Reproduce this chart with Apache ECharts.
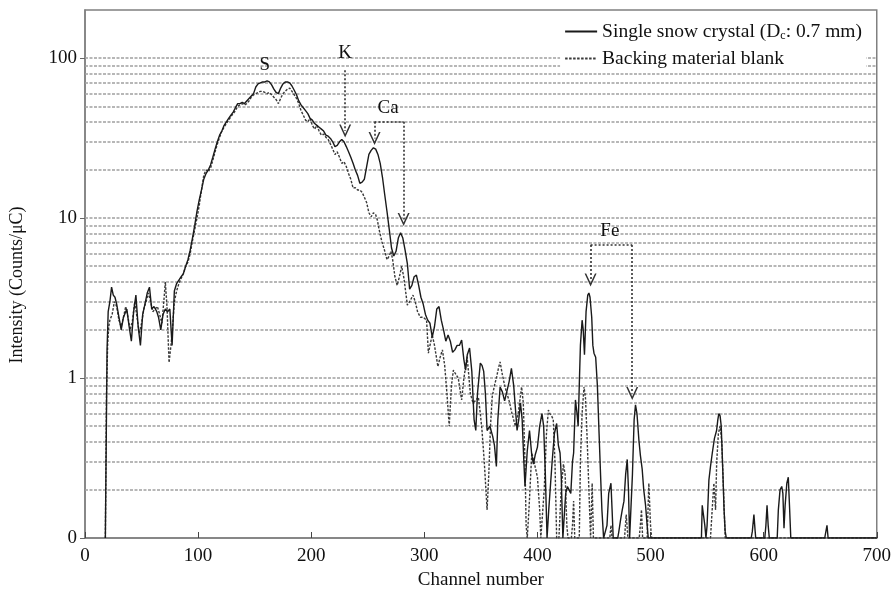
<!DOCTYPE html>
<html>
<head>
<meta charset="utf-8">
<script src="https://cdn.jsdelivr.net/npm/echarts@6/dist/echarts.min.js"></script>
<style>html,body{margin:0;padding:0;background:#fff}#c{width:894px;height:601px}</style>
</head>
<body>
<div id="c"></div>
<script>
// ---------- data ----------
const seriesNames = ['Single snow crystal (Dc: 0.7 mm)', 'Backing material blank'];
// [channel, counts/µC]; 0 = no counts (drawn on the axis floor)
const snowSpectrum = [
[18,0],[19.5,1.5],[20.5,2.6],[22,3.0],[23.5,3.7],[25,3.3],[26.5,3.2],[28,2.9],[30,2.4],[32,2.0],[34,2.4],[37,2.7],[39,2.1],[41,1.7],[43,2.6],[45,3.3],[47,2.1],[49,1.6],[51,2.5],[53,2.9],[55,3.4],[57,3.7],[59,2.7],[61,2.8],[63.5,2.6],[65,2.4],[67,2.0],[69,2.5],[71,2.7],[73,2.6],[75,2.7],[77,1.6],[79,3.5],[81,3.9],[83,4.1],[85,4.3],[87,4.5],[89,5.0],[91,5.5],[93,6.3],[95,7.5],[97,9.0],[99,11],[101,13],[103,15],[105,17.5],[107,19],[109,20],[111,21.5],[113,24],[115,27],[117,30],[119,33],[121,35],[123,38],[125,40],[127,42],[129,44],[131,46],[133,49],[135,52],[137,52],[139,53],[141,52],[143,54],[145,56],[147,58],[149,60],[151,66],[153,69],[155,70],[157,71],[159,71],[161,72],[163,71],[165,68],[167,64],[169,61],[171,60],[173,65],[175,69],[177,71],[179,71],[181,70],[183,67],[185,63],[187,59],[189,54],[191,51],[193,49],[195,47],[197,45],[199,42],[201,41],[203,39],[205,38],[207,37],[209,36],[211,35],[213,33],[215,32.5],[217,31.5],[219,30],[221,28],[223,28.5],[225,30],[227,31],[229,30],[231,28],[233,26],[235,24],[237,22],[239,20],[241,18.5],[243,16.5],[245,16.8],[247,17.5],[249,21],[251,25],[253,26.5],[255,27.5],[257,27],[259,25],[261,22],[263,18],[265,14],[267,11],[269,8.5],[271,6.5],[273,5.8],[275,6.2],[277,7.5],[279,8.1],[281,7.5],[283,6.3],[285,5.2],[287,3.6],[289,3.8],[291,4.3],[293,4.4],[295,3.8],[297,3.2],[299,2.9],[301,2.5],[303,2.3],[305,2.2],[307,1.8],[309,2.1],[311,2.7],[313,2.8],[315,2.3],[317,2.0],[319,1.7],[321,1.86],[323,1.7],[325,1.45],[327,1.5],[329,1.6],[331,1.6],[333,1.73],[335,1.3],[336.5,1.12],[338,1.4],[340,1.54],[342,1.1],[344,0.55],[345.5,0.47],[347,0.8],[349.5,1.24],[351,1.2],[352.5,1.1],[354,0.8],[355.5,0.47],[358,0.5],[360.5,0.43],[362,0.38],[363.7,0.28],[365,0.55],[367,0.88],[369,0.82],[371,0.72],[372.6,0.7],[375,0.95],[377,1.15],[379,0.9],[382,0.47],[383.5,0.55],[385,0.7],[386.5,0.55],[388,0.3],[389,0.21],[391,0.35],[393,0.47],[395,0.33],[396.5,0.29],[398,0.33],[400,0.37],[402,0.5],[404,0.6],[405.5,0.5],[407,0.25],[408.5,0],[410,0.15],[413,0.3],[415,0.45],[417,0.52],[418.5,0.38],[420,0.34],[421,0.25],[422.5,0],[423.5,0.13],[425,0.19],[426.5,0.21],[428,0.2],[429.5,0.19],[431,0.3],[432,0.34],[433.6,0.73],[435,0.6],[436,0.5],[437,0.9],[438,1.6],[439.5,2.3],[440.5,2.0],[441.6,1.4],[443,2.6],[444.5,3.3],[445.5,3.4],[446.5,3.2],[448,2.4],[449,1.6],[450,1.43],[451.5,1.35],[453,0.9],[454.5,0.45],[455.8,0.25],[457,0.15],[458.5,0],[460,0],[461.5,0.12],[463,0.19],[465,0.22],[466,0.15],[467,0],[471,0],[472,0.11],[473.5,0.13],[475,0.15],[476.5,0.17],[478,0.25],[479.4,0.31],[480.5,0.2],[481.5,0],[482.5,0],[484,0.25],[485.5,0.55],[486.7,0.68],[488,0.6],[489.7,0.41],[491,0.33],[492.6,0.27],[494,0.2],[495.6,0.16],[497,0.12],[498,0],
[545,0],[545.7,0.16],[547,0.16],[548,0.12],[549,0],[550,0.12],[551.6,0.23],[553,0.28],[554.6,0.34],[556.5,0.42],[558.4,0.47],[559.5,0.55],[560.4,0.6],[561.5,0.58],[562.5,0.5],[564,0.25],[565,0.15],[566,0.11],[567,0],
[589,0],[590,0.11],[591.4,0.14],[592.5,0.11],[593,0],[601,0],[602,0.12],[603,0.16],[604,0.12],[605,0],
[612,0],[613,0.15],[614.5,0.2],[616,0.21],[617,0.19],[618,0.115],[619,0.16],[620.5,0.22],[621.8,0.24],[623,0.15],[624,0],
[654,0],[655,0.1],[656,0.12],[657,0.1],[658,0],[700,0]
];
const blankSpectrum = [
[18,0],[19,0.8],[20,1.6],[21,2.1],[22,2.3],[24,2.5],[26,3.0],[28,2.8],[30,2.3],[32,2.1],[34,2.4],[36,2.8],[38,2.4],[40,2.0],[42,2.3],[44,3.0],[46,2.4],[48,1.9],[50,2.2],[52,2.7],[54,3.0],[56,3.4],[58,3.0],[60,2.6],[62,2.7],[64,2.8],[66,2.5],[68,2.2],[70,3.2],[71,4.0],[72.5,2.8],[74.3,1.25],[76,1.6],[77,1.9],[79,3.0],[81,3.5],[83,3.9],[85,4.2],[87,4.5],[89,5.0],[91,5.3],[93,6.0],[95,7.2],[97,8.5],[99,10],[101,12],[103,15],[105,18.5],[107,20],[109,19.5],[111,20.5],[113,23],[115,26],[117,29],[119,32],[121,35],[123,37],[125,39],[127,41],[129,43],[131,45],[133,47],[135,50],[137,51],[139,52],[141,51],[143,52],[145,54],[147,57],[149,59],[151,60],[153,61],[155,62],[157,62],[159,61],[161,60],[163,61],[165,59],[167,57],[169,55],[171,52],[173,56],[175,60],[177,62],[179,64],[181,65],[183,62],[185,59],[187,56],[189,52],[191,47],[193,44],[195,41],[197,40],[199,42],[201,38],[203,36],[205,38],[207,35],[209,33],[211,33.5],[213,32],[215,31],[217,29],[219,27],[221,25],[223,26],[225,24],[227,22],[229,22.5],[231,21],[233,19],[235,17.5],[237,15.4],[239,15.5],[241,15],[243,15],[245,14.5],[247,13.5],[249,12.5],[251,10.8],[253,10.2],[255,10.8],[257,10.5],[258.5,9.7],[260,8.5],[262.5,7.1],[264.5,6.4],[267,5.5],[269,5.8],[270.5,6.2],[272,5.5],[274,4.3],[276,3.8],[278,4.3],[280,5.0],[282,4.2],[285,2.86],[287,3.0],[290,3.3],[292,3.0],[294,2.6],[296.5,2.4],[299,2.4],[302,2.3],[303.6,1.43],[305,1.6],[307,1.86],[309,1.6],[312,1.18],[314,1.35],[316,1.5],[318,1.2],[320,0.8],[322,0.5],[324,0.9],[325.7,1.12],[328,1.05],[330,1.0],[331.5,0.85],[333,0.73],[335,1.0],[337.8,1.36],[339,1.1],[340.7,0.8],[343,0.7],[345,0.72],[347.8,0.76],[349.5,0.6],[351,0.47],[353,0.3],[355.5,0.15],[357,0.25],[358.5,0.5],[360,0.76],[362,0.9],[364,1.02],[365.5,1.15],[367,1.26],[369,1.05],[371,0.9],[373,0.8],[375,0.72],[377,0.62],[380.5,0.5],[383,0.6],[386,0.88],[387.5,0.7],[389,0.3],[390,0.12],[391,0],[392.5,0.15],[395,0.34],[397,0.3],[400,0.24],[402,0.15],[403,0.1],[404,0],[406,0.2],[408,0.45],[409.7,0.63],[411,0.6],[412.5,0.58],[414,0.55],[415.5,0.3],[417,0],[419,0],[421,0.2],[423,0.29],[424.5,0.25],[426,0.12],[427,0],[430,0],[431,0.12],[432,0.17],[433,0],[437,0],[438,0.3],[439.5,0.6],[441.2,0.88],[442.5,0.75],[444,0.41],[445.5,0.2],[447,0],[448.4,0.22],[449.5,0],[464,0],[465,0.12],[466,0],[477,0],[478.5,0.14],[480,0],[490,0],[491,0.12],[492,0.15],[493,0],[497,0],[498.5,0.22],[500,0.12],[501,0],
[553,0],[554.5,0.15],[556,0.22],[557.5,0.15],[558.5,0.3],[560,0.45],[561.5,0.5],[563,0.4],[564.5,0.2],[566,0],[700,0]
];
const xTicks = [0, 100, 200, 300, 400, 500, 600, 700];
const yLabelValues = [0.1, 1, 10, 100];
const gridValues = [0.2,0.3,0.4,0.5,0.6,0.7,0.8,0.9,1,2,3,4,5,6,7,8,9,10,20,30,40,50,60,70,80,90,100];
// annotation labels: [text, channel, counts]
const peakLabels = [['S',159,90],['K',230,107],['Ca',268,49],['Fe',464,8.3]];
// arrows / brackets: [fromChannel, fromCounts, toChannel, toCounts, arrowAtEnd]
const peakArrows = [
  [230,84,230,35,true],
  [256,40,256,31.5,true],[256,40,281.7,40,false],[281.7,40,281.7,9.8,true],
  [447,6.78,447,4.1,true],[447,6.78,483.8,6.78,false],[483.8,6.78,483.8,0.8,true]
];

// ---------- chart ----------
const FLOOR = 0.1;
const FONT = "'Liberation Serif','DejaVu Serif',serif";
const toPlot = arr => arr.map(p => [p[0], p[1] <= FLOOR ? FLOOR : p[1]]);
const CHEV = 'path://M0,12 L6,0 L12,12 L10.4,12 L6,3.2 L1.6,12 Z';

const chart = echarts.init(document.getElementById('c'), null, {renderer: 'canvas'});
chart.setOption({
  animation: false,
  backgroundColor: '#fff',
  textStyle: {fontFamily: FONT},
  grid: {left: 85, right: 16, top: 10, bottom: 63, show: true, borderColor: '#808080', borderWidth: 1.5, backgroundColor: 'transparent'},
  legend: {
    orient: 'vertical', right: 28, top: 18, padding: [3, 4],
    itemWidth: 32, itemHeight: 14, itemGap: 6,
    backgroundColor: '#fff',
    itemStyle: {color: 'rgba(0,0,0,0)', borderWidth: 0, opacity: 0},
    data: seriesNames,
    textStyle: {fontFamily: FONT, fontSize: 19.5, color: '#111', lineHeight: 21,
      rich: {sub: {fontFamily: FONT, fontSize: 12, color: '#111', verticalAlign: 'bottom', padding: [7, 0, 0, 0]}}},
    formatter: n => n.replace('Dc:', 'D{sub|c}:')
  },
  xAxis: {
    type: 'value', min: xTicks[0], max: xTicks[xTicks.length - 1], interval: 100,
    name: 'Channel number', nameLocation: 'middle', nameGap: 33,
    nameTextStyle: {fontFamily: FONT, fontSize: 19, color: '#111'},
    axisLine: {show: true, lineStyle: {color: '#808080', width: 1.5}},
    axisTick: {show: true, inside: true, length: 6, lineStyle: {color: '#444', width: 1}},
    axisLabel: {fontFamily: FONT, fontSize: 19, color: '#111', margin: 9},
    splitLine: {show: false}
  },
  yAxis: {
    type: 'log', logBase: 10, min: FLOOR, max: 200,
    name: 'Intensity (Counts/μC)', nameLocation: 'middle', nameGap: 59,
    nameTextStyle: {fontFamily: FONT, fontSize: 18, color: '#111', padding: [0, 22, 0, 0]},
    axisLine: {show: true, lineStyle: {color: '#808080', width: 1.5}},
    axisTick: {show: true, length: 5, lineStyle: {color: '#666'}},
    axisLabel: {fontFamily: FONT, fontSize: 19, color: '#111', margin: 8, showMaxLabel: false,
      formatter: v => {
        const m = yLabelValues.find(t => Math.abs(Math.log10(v) - Math.log10(t)) < 1e-6);
        if (m === undefined) return '';
        return m <= FLOOR ? '0' : String(m);
      }},
    splitLine: {show: false}
  },
  series: [
    {
      name: seriesNames[0], type: 'line', z: 3, showSymbol: false, symbol: 'none',
      data: toPlot(snowSpectrum),
      lineStyle: {color: '#1a1a1a', width: 1.4},
      itemStyle: {color: '#1a1a1a'},
      markLine: {
        silent: true, z: 6, animation: false,
        lineStyle: {color: '#333', type: [2, 2], width: 1.6},
        label: {show: false},
        data: peakArrows.map(a => [
          {coord: [a[0], a[1]], symbol: 'none'},
          {coord: [a[2], a[3]], symbol: a[4] ? CHEV : 'none', symbolSize: [12, 13]}
        ])
      },
      markPoint: {
        silent: true, animation: false,
        data: peakLabels.map(l => ({
          coord: [l[1], l[2]], symbol: 'rect', symbolSize: 1, itemStyle: {color: 'rgba(0,0,0,0)'},
          label: {show: true, position: 'inside', formatter: l[0], fontFamily: FONT, fontSize: 19, color: '#111'}
        }))
      }
    },
    {
      name: seriesNames[1], type: 'line', z: 2, showSymbol: false, symbol: 'none',
      data: toPlot(blankSpectrum),
      lineStyle: {color: '#3a3a3a', width: 1.4, type: [2.5, 1.5]},
      itemStyle: {color: '#3a3a3a'},
      markLine: {
        silent: true, z: 1, animation: false, symbol: 'none',
        lineStyle: {color: '#a0a0a0', type: [3, 1.5], width: 1.5},
        label: {show: false},
        data: gridValues.map(v => ({yAxis: v}))
      }
    }
  ]
});
</script>
</body>
</html>
